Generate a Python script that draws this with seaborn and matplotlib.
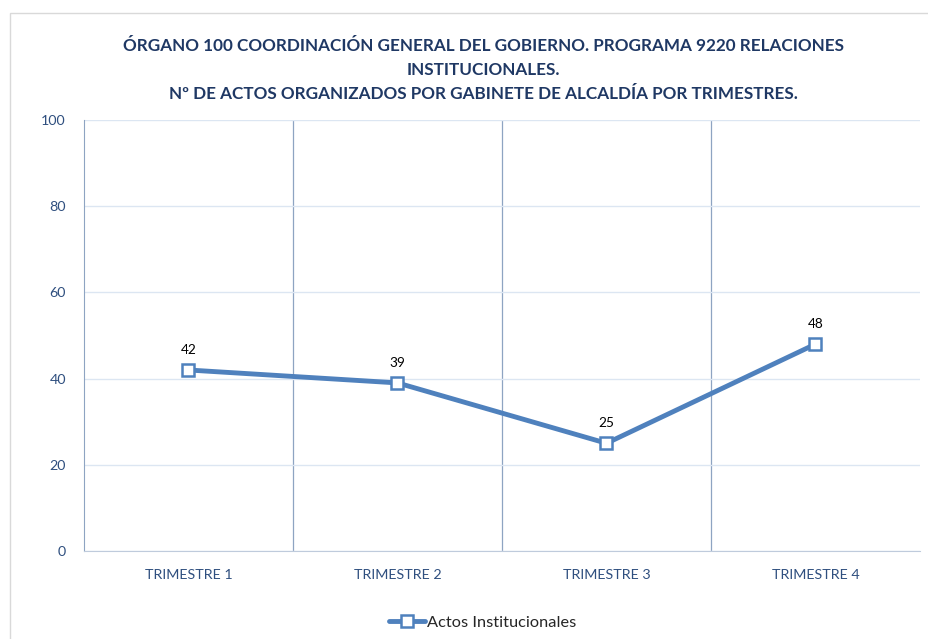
import matplotlib
matplotlib.use("Agg")
import matplotlib.pyplot as plt
import matplotlib.patches as mpatches
import pandas as pd
import seaborn as sns

# Chart data
trimestres = ["TRIMESTRE 1", "TRIMESTRE 2", "TRIMESTRE 3", "TRIMESTRE 4"]
actos = [42, 39, 25, 48]
serie = "Actos Institucionales"
titulo = ("ÓRGANO 100 COORDINACIÓN GENERAL DEL GOBIERNO. PROGRAMA 9220 RELACIONES\n"
          "INSTITUCIONALES.\n"
          "Nº DE ACTOS ORGANIZADOS POR GABINETE DE ALCALDÍA POR TRIMESTRES.")

sns.set_style("white")
plt.rcParams["font.family"] = ["Lato", "DejaVu Sans"]

df = pd.DataFrame({"pos": range(len(trimestres)), "valor": actos, "serie": serie})

LINE = "#4F81BD"
TITLE_C = "#1F3864"
TICK_C = "#2F4F7F"

fig = plt.figure(figsize=(9.29, 6.39), dpi=100)
ax = fig.add_axes([0.0904, 0.1377, 0.8999, 0.6745])

# light frame around the chart area
fig.patches.append(mpatches.Rectangle((10 / 929, -0.01), 1.0, 1 - 13 / 639 + 0.01,
                                      transform=fig.transFigure, fill=False,
                                      edgecolor="#D9D9D9", linewidth=1))

sns.lineplot(data=df, x="pos", y="valor", ax=ax, color=LINE, linewidth=3.5,
             marker="s", markersize=8, markerfacecolor="white",
             markeredgecolor=LINE, markeredgewidth=1.8, label=serie)

for x, y in zip(df["pos"], df["valor"]):
    ax.annotate(str(y), (x, y), xytext=(0, 10), textcoords="offset points",
                ha="center", va="bottom", fontsize=9.8, color="black")

ax.set_xlim(-0.5, len(trimestres) - 0.5)
ax.set_ylim(0, 100)
ax.set_yticks(range(0, 101, 20))
ax.set_xticks(range(len(trimestres)))
ax.set_xticklabels(trimestres)
ax.set_xticks([0.5, 1.5, 2.5], minor=True)
ax.grid(axis="y", which="major", color="#DCE6F2", linewidth=1)
ax.grid(axis="x", which="minor", color="#8EA4C2", linewidth=0.9)
ax.tick_params(axis="both", which="both", length=0, colors=TICK_C, labelsize=10.3)
ax.tick_params(axis="x", pad=13)
ax.tick_params(axis="y", pad=13)
ax.set_xlabel("")
ax.set_ylabel("")

for s in ["top", "right"]:
    ax.spines[s].set_visible(False)
ax.spines["left"].set_color("#8EA4C2")
ax.spines["bottom"].set_color("#BFCBDC")

fig.text(0.52, 1 - 38 / 639, titulo, ha="center", va="top", fontsize=12.3,
         fontweight="bold", color=TITLE_C, linespacing=1.6)

ax.legend(loc="center", bbox_to_anchor=(0.477, -0.167), frameon=False,
          fontsize=11.8, handlelength=2.2, handletextpad=0.1)

fig.savefig("out.png", dpi=100)
